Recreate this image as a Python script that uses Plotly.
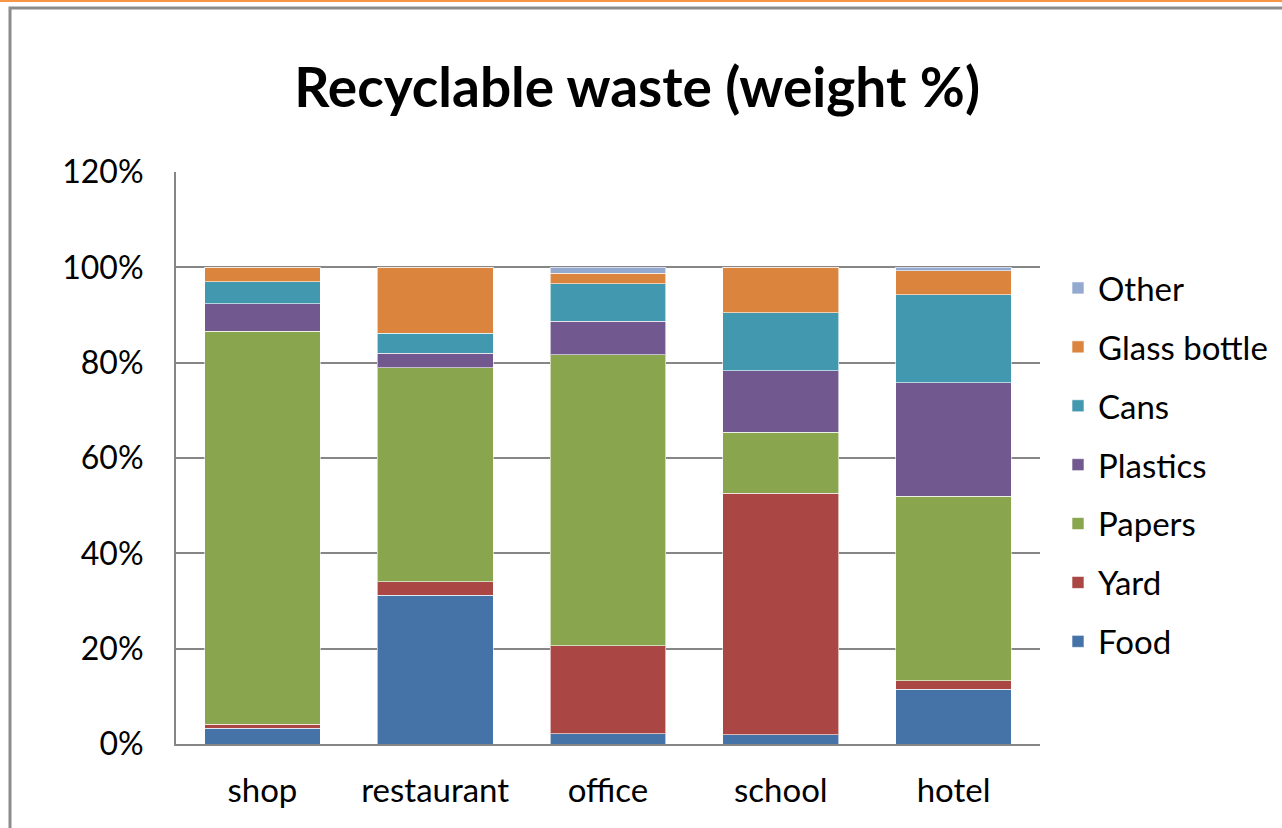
import plotly.graph_objects as go

# ── Data (weight %) ────────────────────────────────────────────────────────
sites = ['shop', 'restaurant', 'office', 'school', 'hotel']

food     = [3.3, 31.2, 2.2, 1.9, 11.5]
yard     = [0.8, 2.8, 18.4, 50.7, 1.8]
papers   = [82.5, 44.9, 61.1, 12.8, 38.7]
plastics = [5.8, 3.1, 7.0, 12.9, 23.8]
cans     = [4.6, 4.2, 7.9, 12.2, 18.4]
glass    = [3.0, 13.8, 2.2, 9.5, 5.1]
other    = [0.0, 0.0, 1.2, 0.0, 0.7]

series = [
    ('Food', food, '#4572A7'),
    ('Yard', yard, '#AA4643'),
    ('Papers', papers, '#89A54E'),
    ('Plastics', plastics, '#71588F'),
    ('Cans', cans, '#4198AF'),
    ('Glass bottle', glass, '#DB843D'),
    ('Other', other, '#93A9CF'),
]

W, H = 1282, 828
L, R, T, B = 176, 1040, 172, 744
FONT = 'Lato, sans-serif'


def px_x(x):
    return (x - L) / (R - L)


def px_y(y):
    return (B - y) / (B - T)


fig = go.Figure()
for i, (name, vals, col) in enumerate(series):
    fig.add_trace(go.Bar(
        x=sites, y=vals, name=name, legendgroup=name,
        legendrank=len(series) - i,  # top of the stack listed first
        marker=dict(color=col, line=dict(color='rgba(255,255,255,0.6)', width=1)),
    ))

fig.update_layout(
    width=W, height=H,
    barmode='stack', bargap=0.33,
    plot_bgcolor='white', paper_bgcolor='white',
    font=dict(family=FONT, color='black', size=32),
    margin=dict(l=L, r=W - R, t=T, b=H - B, autoexpand=False),
    title=dict(text='<b>Recyclable waste (weight %)</b>', x=0.497, xanchor='center',
               y=1 - 88 / H, yanchor='middle', font=dict(size=55, family=FONT)),
    showlegend=True,
    legend=dict(
        traceorder='grouped', tracegroupgap=13,
        x=px_x(1058), xanchor='left', y=px_y(260), yanchor='top',
        font=dict(size=33, family=FONT), bgcolor='rgba(0,0,0,0)',
    ),
    xaxis=dict(showgrid=False, showline=True, linecolor='#868686', linewidth=2,
               ticks='', ticklabelstandoff=16, tickfont=dict(size=33)),
    yaxis=dict(range=[0, 120], dtick=20, ticksuffix='%', showgrid=True,
               gridcolor='#868686', gridwidth=2, showline=True, linecolor='#868686',
               linewidth=2, ticks='', ticklabelstandoff=24, zeroline=False,
               tickfont=dict(size=32)),
)

# outer frame of the chart object and the orange rule above it
fig.add_shape(type='rect', xref='paper', yref='paper',
              x0=px_x(10), x1=px_x(1300), y0=px_y(8), y1=px_y(840),
              line=dict(color='#8c8c8c', width=3), layer='below')
fig.add_shape(type='line', xref='paper', yref='paper',
              x0=px_x(0), x1=px_x(W), y0=px_y(0.5), y1=px_y(0.5),
              line=dict(color='#F79646', width=3))

fig.write_html('out.html', config={'displayModeBar': False},
               post_script="document.body.style.margin='0';")
